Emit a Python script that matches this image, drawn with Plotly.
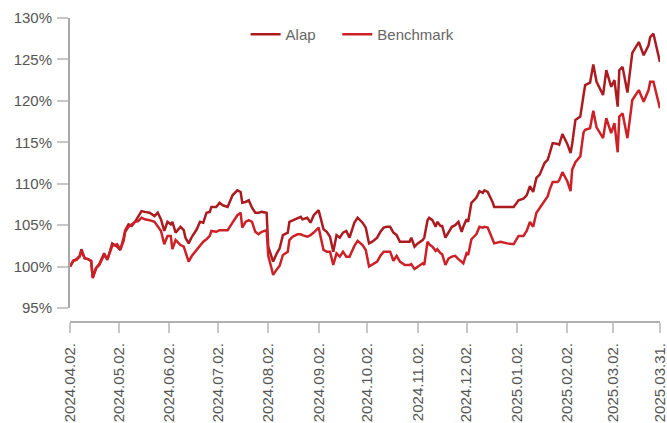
import plotly.graph_objects as go

dates = [
    "2024-04-02", "2024-04-04", "2024-04-06", "2024-04-08", "2024-04-09", "2024-04-11", "2024-04-13", "2024-04-15",
    "2024-04-16", "2024-04-18", "2024-04-20", "2024-04-23", "2024-04-25", "2024-04-27", "2024-04-28", "2024-05-01",
    "2024-05-03", "2024-05-05", "2024-05-06", "2024-05-08", "2024-05-10", "2024-05-12", "2024-05-14", "2024-05-16",
    "2024-05-18", "2024-05-21", "2024-05-24", "2024-05-26", "2024-05-28", "2024-05-30", "2024-06-01", "2024-06-03",
    "2024-06-04", "2024-06-06", "2024-06-09", "2024-06-11", "2024-06-12", "2024-06-14", "2024-06-16", "2024-06-19",
    "2024-06-21", "2024-06-23", "2024-06-25", "2024-06-27", "2024-06-28", "2024-07-01", "2024-07-03", "2024-07-05",
    "2024-07-08", "2024-07-11", "2024-07-14", "2024-07-16", "2024-07-17", "2024-07-19", "2024-07-21", "2024-07-23",
    "2024-07-25", "2024-07-27", "2024-07-29", "2024-08-01", "2024-08-02", "2024-08-04", "2024-08-05", "2024-08-07",
    "2024-08-09", "2024-08-11", "2024-08-14", "2024-08-15", "2024-08-17", "2024-08-20", "2024-08-22", "2024-08-23",
    "2024-08-26", "2024-08-28", "2024-08-30", "2024-09-02", "2024-09-03", "2024-09-05", "2024-09-07", "2024-09-09",
    "2024-09-11", "2024-09-13", "2024-09-15", "2024-09-17", "2024-09-19", "2024-09-21", "2024-09-24", "2024-09-26",
    "2024-09-29", "2024-10-01", "2024-10-03", "2024-10-05", "2024-10-08", "2024-10-10", "2024-10-12", "2024-10-14",
    "2024-10-16", "2024-10-18", "2024-10-20", "2024-10-22", "2024-10-25", "2024-10-28", "2024-10-29", "2024-10-31",
    "2024-11-02", "2024-11-05", "2024-11-06", "2024-11-08", "2024-11-09", "2024-11-11", "2024-11-13", "2024-11-14",
    "2024-11-16", "2024-11-17", "2024-11-19", "2024-11-21", "2024-11-23", "2024-11-25", "2024-11-27", "2024-11-29",
    "2024-11-30", "2024-12-02", "2024-12-03", "2024-12-05", "2024-12-08", "2024-12-10", "2024-12-12", "2024-12-13",
    "2024-12-15", "2024-12-18", "2024-12-19", "2024-12-23", "2024-12-27", "2024-12-31", "2025-01-03", "2025-01-06",
    "2025-01-08", "2025-01-10", "2025-01-12", "2025-01-14", "2025-01-16", "2025-01-19", "2025-01-21", "2025-01-22",
    "2025-01-24", "2025-01-27", "2025-01-28", "2025-01-30", "2025-02-02", "2025-02-04", "2025-02-05", "2025-02-07",
    "2025-02-10", "2025-02-12", "2025-02-13", "2025-02-16", "2025-02-18", "2025-02-20", "2025-02-24", "2025-02-26",
    "2025-03-01", "2025-03-03", "2025-03-05", "2025-03-06", "2025-03-08", "2025-03-11", "2025-03-14", "2025-03-18",
    "2025-03-21", "2025-03-24", "2025-03-25", "2025-03-27", "2025-03-29", "2025-03-31",
]

alap = [
    100.0, 100.7, 100.9, 101.3, 102.1, 101.0, 100.9, 100.7,
    98.7, 99.8, 100.3, 101.6, 100.8, 102.2, 102.8, 102.4,
    102.0, 103.5, 104.4, 105.1, 104.9, 105.4, 106.1, 106.7,
    106.6, 106.5, 106.1, 106.5, 105.7, 104.3, 105.4, 105.1,
    105.4, 104.1, 104.8, 104.4, 103.5, 102.8, 103.6, 104.5,
    105.4, 105.3, 106.5, 106.6, 107.2, 107.2, 107.7, 107.4,
    107.2, 108.6, 109.2, 109.0, 107.7, 107.8, 108.0, 107.1,
    106.5, 106.5, 106.6, 106.5, 102.4, 101.0, 100.6, 101.5,
    102.2, 103.8, 104.1, 105.4, 105.6, 105.9, 106.0, 105.7,
    105.9, 105.3, 106.2, 106.8, 106.0, 104.5, 104.2, 103.6,
    101.8, 103.8, 103.5, 104.1, 104.3, 103.5, 105.3, 105.9,
    105.3, 104.7, 102.8, 103.0, 103.5, 104.2, 104.7, 104.8,
    104.8, 104.1, 103.8, 103.0, 103.0, 103.0, 103.5, 102.4,
    102.8, 103.2, 103.5, 105.6, 105.9, 105.6, 104.8, 105.4,
    104.9, 104.9, 103.5, 104.2, 104.8, 105.0, 105.4, 104.2,
    104.8, 105.7, 105.4, 107.7, 108.3, 109.1, 108.9, 109.2,
    109.0, 107.8, 107.2, 107.2, 107.2, 107.2, 108.0, 108.2,
    108.6, 109.7, 109.0, 110.7, 111.1, 112.5, 112.9, 113.6,
    114.9, 114.8, 114.7, 116.0, 114.8, 113.7, 114.8, 117.7,
    118.1, 120.7, 121.9, 122.2, 124.4, 122.3, 120.7, 123.7,
    121.7, 122.5, 119.3, 123.7, 124.1, 121.0, 125.8, 127.1,
    125.5, 126.7, 127.7, 128.1, 126.4, 124.7,
]

benchmark = [
    100.0, 100.7, 100.8, 101.2, 101.9, 101.0, 100.9, 100.7,
    98.6, 99.8, 100.2, 101.4, 100.9, 102.0, 102.5, 102.7,
    102.1, 103.1, 104.2, 104.8, 105.1, 105.4, 105.5, 105.9,
    105.7, 105.6, 105.4, 104.9, 104.3, 102.7, 103.7, 103.7,
    102.1, 103.2, 102.6, 102.4, 101.8, 100.6, 101.3, 102.0,
    102.4, 103.0, 103.3, 103.7, 104.3, 104.2, 104.4, 104.4,
    104.4, 105.3, 106.2, 106.5, 104.7, 105.4, 105.6, 105.4,
    104.2, 103.9, 104.2, 104.4, 101.3, 99.8, 99.0, 99.6,
    100.1, 101.4, 101.8, 103.2, 103.6, 103.9, 103.9, 103.8,
    103.6, 103.8, 104.1, 104.7, 103.8, 102.0, 101.8, 101.8,
    100.2, 101.6, 101.2, 101.8, 101.2, 101.2, 102.5, 103.1,
    102.6, 102.0, 100.0, 100.2, 100.6, 101.3, 101.8, 101.8,
    101.8, 100.7, 101.3, 100.6, 100.2, 100.2, 100.3, 99.7,
    100.0, 100.4, 100.2, 103.0, 102.7, 102.4, 101.9, 102.1,
    101.6, 101.5, 100.2, 101.0, 101.2, 101.3, 100.9, 100.6,
    100.4, 101.6, 101.4, 103.3, 103.9, 104.8, 104.7, 104.8,
    104.7, 103.3, 102.8, 103.0, 102.8, 102.7, 103.7, 103.7,
    104.3, 105.4, 104.8, 106.5, 107.1, 108.0, 108.5, 109.2,
    110.2, 110.2, 110.4, 111.4, 110.3, 109.1, 111.7, 112.6,
    113.3, 116.2, 116.5, 116.7, 118.8, 116.8, 115.5, 117.9,
    116.1, 117.3, 113.8, 118.1, 118.5, 115.5, 120.1, 121.3,
    119.9, 121.3, 122.3, 122.3, 120.7, 119.1,
]

tick_dates = [
    "2024-04-02", "2024-05-02", "2024-06-02", "2024-07-02", "2024-08-02", "2024-09-02", "2024-10-02",
    "2024-11-02", "2024-12-02", "2025-01-02", "2025-02-02", "2025-03-02", "2025-03-31",
]
tick_labels = [d.replace("-", ".") + "." for d in tick_dates]

y_ticks = [95, 100, 105, 110, 115, 120, 125, 130]
y_labels = [f"{v}%" for v in y_ticks]

FONT = "Liberation Sans, Arial, sans-serif"

fig = go.Figure()
fig.add_trace(go.Scatter(x=dates, y=alap, mode="lines", name="Alap\u00a0\u00a0\u00a0\u00a0",
                         line=dict(color="#ab1b20", width=2.5)))
fig.add_trace(go.Scatter(x=dates, y=benchmark, mode="lines", name="Benchmark",
                         line=dict(color="#cc2126", width=2.5)))

fig.update_layout(
    width=667, height=423,
    margin=dict(l=70, r=7, t=18, b=101, autoexpand=False),
    paper_bgcolor="white", plot_bgcolor="white",
    font=dict(family=FONT, size=15, color="#555555"),
    showlegend=True,
    legend=dict(orientation="h", x=0.479, xanchor="center", y=1.0, yanchor="top",
                font=dict(size=15, color="#666666"), bgcolor="rgba(0,0,0,0)",
                itemwidth=30),
    xaxis=dict(
        type="date", range=["2024-04-02", "2025-03-31 01:00"],
        anchor="free", position=0, automargin=False,
        tickmode="array", tickvals=tick_dates, ticktext=tick_labels,
        tickangle=-90, ticks="outside", ticklen=10, tickwidth=2, tickcolor="#c8c8c8",
        ticklabelstandoff=4, ticklabeloverflow="allow",
        showline=True, linecolor="#b0b0b0", linewidth=2,
        showgrid=False, zeroline=False,
        tickfont=dict(size=15, color="#555555"),
    ),
    yaxis=dict(
        domain=[0.046, 1], range=[95, 130], automargin=False,
        tickmode="array", tickvals=y_ticks, ticktext=y_labels,
        ticks="outside", ticklen=11, tickwidth=2, tickcolor="#c8c8c8",
        ticklabelstandoff=2,
        showline=True, linecolor="#a8a8a8", linewidth=2,
        showgrid=False, zeroline=False,
        tickfont=dict(size=15, color="#555555"),
    ),
)

fig.write_html("out.html", config={"displayModeBar": False},
               post_script="document.body.style.margin='0';document.body.style.overflow='hidden';")
